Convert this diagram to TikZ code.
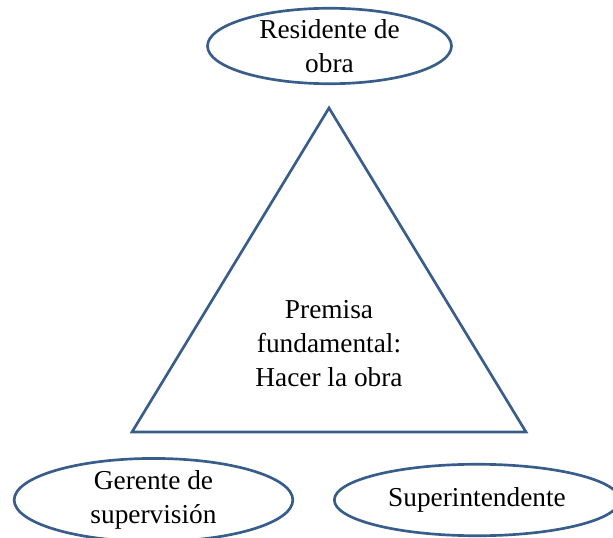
\documentclass[tikz,border=0pt]{standalone}
\usepackage{fontspec}
\setmainfont{Liberation Serif}
\usepackage{tikz}
\usetikzlibrary{positioning,calc,shapes.geometric}
\definecolor{rolecolor}{HTML}{385D8A}
\tikzset{
    %Define style for the role ellipses
    role/.style={
           ellipse,
           draw=rolecolor,
           line width=2pt,
           inner sep=0pt,
           align=center,
           font=\fontsize{20.5}{25.5}\selectfont},
    % Define style for the triangle
    tri/.style={
           draw=rolecolor,
           line width=2pt,
           line join=miter}
}
\begin{document}
\begin{tikzpicture}[x=0.75pt, y=-0.75pt]
	% frame
	\useasboundingbox (0,0) rectangle (613,538);

	% triangle corners
	\coordinate (tri-top) at (329,108);
	\coordinate (tri-left) at (132,432);
	\coordinate (tri-right) at (526,432);
	\draw[tri] (tri-top) -- (tri-right) -- (tri-left) -- cycle;

	% premise
	\node[align=center, font=\fontsize{20.5}{25.5}\selectfont](premise) at (329,344){Premisa\\fundamental:\\Hacer la obra};

	% roles
	\node[role, minimum width=183pt, minimum height=56.6pt](resident) at (329.5,46){Residente de\\obra};
	\node[role, minimum width=209pt, minimum height=53.6pt](manager) at (153.5,500){Gerente de\\supervisión};
	\node[role, minimum width=214pt, minimum height=53.6pt](super) at (477,500){Superintendente};

\end{tikzpicture}
\end{document}
